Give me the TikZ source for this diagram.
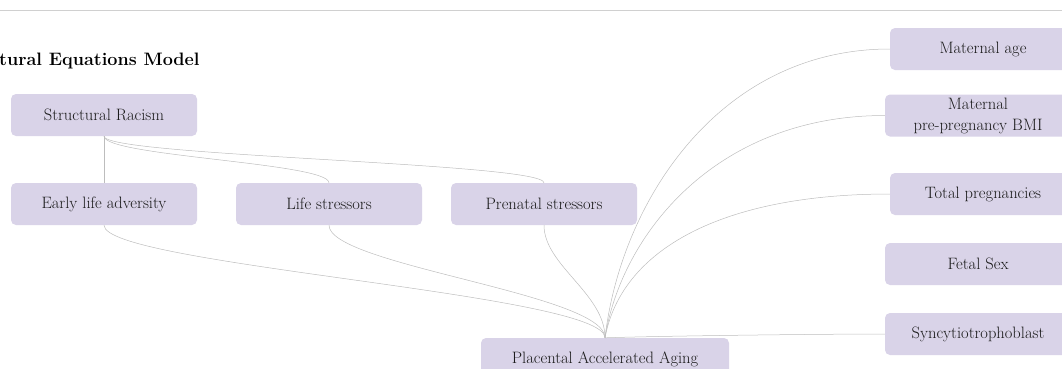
\documentclass[tikz,border=0pt]{standalone}
\usepackage{fontspec}
\definecolor{boxfill}{HTML}{D9D3E8}
\definecolor{textcol}{HTML}{1A1A1A}
\definecolor{linkcol}{HTML}{BDBDBD}
\definecolor{rulecol}{HTML}{D0D0D0}
\begin{document}
\begin{tikzpicture}[x=1pt,y=-1pt,
  box/.style={fill=boxfill, rounded corners=5pt, minimum width=186pt,
    minimum height=42pt, inner sep=0pt, text=textcol, align=center,
    font=\fontsize{16.5}{19}\selectfont},
  link/.style={draw=linkcol, line width=0.5pt},
  titletext/.style={font=\bfseries\fontsize{18}{21}\selectfont, text=black}]
\useasboundingbox (0,0) rectangle (1062,368);
\clip (0,0) rectangle (1062,368);

% header rule and title
\draw[rulecol, line width=0.6pt] (0,10) -- (1062,10);
\node[titletext, anchor=base west, inner sep=0pt] (title) at (-1,65) {tural Equations Model};

% left-hand factors
\node[box] (sr)  at (104,115) {Structural Racism};
\node[box] (ela) at (104,204) {Early life adversity};
\node[box] (ls)  at (329,204) {Life stressors};
\node[box] (ps)  at (544,204) {Prenatal stressors};

% outcome
\node[box, minimum width=248pt] (pa) at (605,359) {Placental Accelerated Aging};

% covariates
\node[box] (ma)  at (983,49)  {Maternal age};
\node[box] (bmi) at (978,115.5) {Maternal\\[2pt]pre-pregnancy BMI};
\node[box] (tp)  at (983,194) {Total pregnancies};
\node[box] (fs)  at (978,264) {Fetal Sex};
\node[box] (sy)  at (978,334) {Syncytiotrophoblast};

% structural racism to the stressors
\draw[link] (sr.south) -- (ela.north);
\draw[link] (sr.south) .. controls +(0,20) and +(0,-20) .. (ls.north);
\draw[link] (sr.south) .. controls +(0,20) and +(0,-20) .. (ps.north);

% stressors to placental aging
\draw[link] (ela.south) .. controls +(0,40) and +(0,-44) .. (pa.north);
\draw[link] (ls.south)  .. controls +(0,40) and +(0,-44) .. (pa.north);
\draw[link] (ps.south)  .. controls +(0,40) and +(0,-44) .. (pa.north);

% covariates to placental aging
\draw[link] (pa.north) .. controls +(16,-137) and +(-170,0) .. (ma.west);
\draw[link] (pa.north) .. controls +(16,-102) and +(-170,0) .. (bmi.west);
\draw[link] (pa.north) .. controls +(16,-87)  and +(-170,0) .. (tp.west);
\draw[link] (pa.north) .. controls +(60,-2)   and +(-60,0)  .. (sy.west);
\end{tikzpicture}
\end{document}
